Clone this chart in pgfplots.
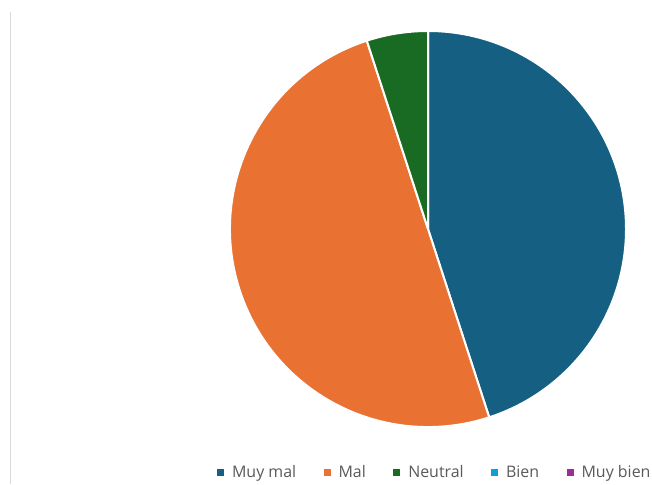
\documentclass[border=0pt]{standalone}
\usepackage{pgfplots}
\usepackage{pgfplotstable}
\pgfplotsset{compat=1.18}
\usepackage{fontspec}
\setmainfont{Open Sans}
\definecolor{cA}{HTML}{156082}
\definecolor{cB}{HTML}{E97132}
\definecolor{cC}{HTML}{196B24}
\definecolor{cD}{HTML}{0F9ED5}
\definecolor{cE}{HTML}{A02B93}
\definecolor{txt}{HTML}{595959}
\definecolor{frame}{HTML}{D9D9D9}
\pgfplotstableread{
idx value
0 9
1 10
2 1
3 0
4 0
}\piedata
\begin{document}%
\begin{tikzpicture}
\pgfplotstablegetelem{0}{value}\of\piedata \edef\vA{\pgfplotsretval}
\pgfplotstablegetelem{1}{value}\of\piedata \edef\vB{\pgfplotsretval}
\pgfplotstablegetelem{2}{value}\of\piedata \edef\vC{\pgfplotsretval}
\pgfplotstablegetelem{3}{value}\of\piedata \edef\vD{\pgfplotsretval}
\pgfplotstablegetelem{4}{value}\of\piedata \edef\vE{\pgfplotsretval}
\pgfmathsetmacro\total{\vA+\vB+\vC+\vD+\vE}
\pgfmathsetmacro\aA{90-360*\vA/\total}
\pgfmathsetmacro\aB{\aA-360*\vB/\total}
\pgfmathsetmacro\aC{\aB-360*\vC/\total}
\begin{axis}[
  x=1bp, y=1bp, xmin=0, xmax=652, ymin=0, ymax=484,
  hide axis, clip=false, scale only axis,
  legend columns=5,
  legend style={draw=none, fill=none, at={(axis cs:217,12)}, anchor=west,
    font=\fontsize{16}{19}\selectfont, text=txt, inner sep=0pt,
    nodes={inner sep=1bp},
    /tikz/every odd column/.append style={column sep=7.5bp},
    /tikz/every even column/.append style={column sep=26.5bp}},
]
\path (axis cs:0,0) rectangle (axis cs:652,484);
\draw[frame, line width=1.5bp] (axis cs:10.5,0) -- (axis cs:10.5,472);
\fill[cA, draw=white, line width=2bp, line join=round] (axis cs:428,255) -- ++(90:198bp) arc[start angle=90, end angle=\aA, radius=198bp] -- cycle;
\fill[cB, draw=white, line width=2bp, line join=round] (axis cs:428,255) -- ++(\aA:198bp) arc[start angle=\aA, end angle=\aB, radius=198bp] -- cycle;
\fill[cC, draw=white, line width=2bp, line join=round] (axis cs:428,255) -- ++(\aB:198bp) arc[start angle=\aB, end angle=\aC, radius=198bp] -- cycle;
\addlegendimage{legend image code/.code={\fill[cA] (0bp,-3bp) rectangle (6bp,3bp);}}
\addlegendentry{Muy mal}
\addlegendimage{legend image code/.code={\fill[cB] (0bp,-3bp) rectangle (6bp,3bp);}}
\addlegendentry{Mal}
\addlegendimage{legend image code/.code={\fill[cC] (0bp,-3bp) rectangle (6bp,3bp);}}
\addlegendentry{Neutral}
\addlegendimage{legend image code/.code={\fill[cD] (0bp,-3bp) rectangle (6bp,3bp);}}
\addlegendentry{Bien}
\addlegendimage{legend image code/.code={\fill[cE] (0bp,-3bp) rectangle (6bp,3bp);}}
\addlegendentry{Muy bien}
\end{axis}
\end{tikzpicture}%
\end{document}
